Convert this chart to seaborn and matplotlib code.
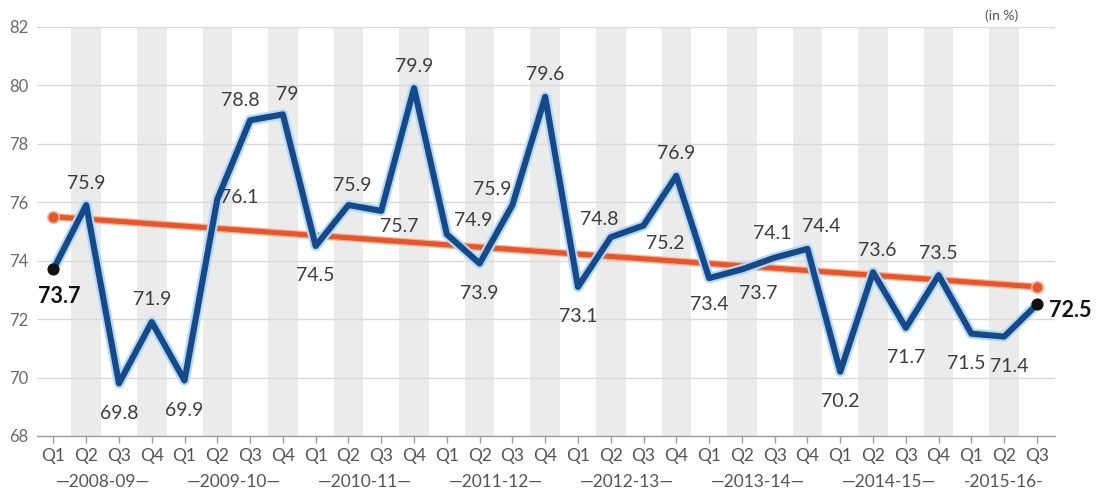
import numpy as np
import pandas as pd
import matplotlib
matplotlib.use("Agg")
import matplotlib.pyplot as plt
import matplotlib.patheffects as pe
import matplotlib.transforms as mtransforms
import seaborn as sns

# ---- data ----
years = ["2008-09", "2009-10", "2010-11", "2011-12", "2012-13", "2013-14", "2014-15", "2015-16"]
quarters = ["Q1", "Q2", "Q3", "Q4"] * 7 + ["Q1", "Q2", "Q3"]
values = [73.7, 75.9, 69.8, 71.9, 69.9, 76.1, 78.8, 79.0, 74.5, 75.9, 75.7, 79.9,
          74.9, 73.9, 75.9, 79.6, 73.1, 74.8, 75.2, 76.9, 73.4, 73.7, 74.1, 74.4,
          70.2, 73.6, 71.7, 73.5, 71.5, 71.4, 72.5]
value_labels = ["73.7", "75.9", "69.8", "71.9", "69.9", "76.1", "78.8", "79", "74.5", "75.9", "75.7", "79.9",
                "74.9", "73.9", "75.9", "79.6", "73.1", "74.8", "75.2", "76.9", "73.4", "73.7", "74.1", "74.4",
                "70.2", "73.6", "71.7", "73.5", "71.5", "71.4", "72.5"]
trend_values = [75.5, 73.1]   # trend line at first and last quarter
y_ticks = [68, 70, 72, 74, 76, 78, 80, 82]

# label placement (pixel offsets), style only
label_offsets = [None, (0, 22), (0, -30), (0, 22), (0, -30), (22, 2), (-10, 20), (4, 20),
                 (0, -30), (4, 20), (18, -16), (0, 22), (26, 14), (0, -30), (-20, 16), (0, 22),
                 (0, -30), (-12, 18), (22, -18), (0, 22), (0, -26), (16, -24), (-2, 24), (14, 22),
                 (0, -30), (4, 22), (0, -30), (0, 22), (-5, -30), (5, -30), None]

x = np.arange(len(values))
df = pd.DataFrame({"x": x, "value": values})
trend_df = pd.DataFrame({"x": [x[0], x[-1]], "value": trend_values})

sns.set_theme(style="white")
plt.rcParams["font.family"] = ["Lato", "DejaVu Sans"]

fig = plt.figure(figsize=(11.02, 4.93), dpi=100)
ax = fig.add_axes([37 / 1102, 1 - 436 / 493, (1055 - 37) / 1102, (436 - 26.7) / 493])

ax.set_xlim(-0.5, 30.55)
ax.set_ylim(68, 82)

# alternating background bands
for i in x:
    if i % 2 == 1:
        ax.axvspan(i - 0.45, i + 0.45, ymin=0, ymax=1, color="#ebebeb", lw=0, zorder=0)

# gridlines
for t in y_ticks[1:]:
    ax.axhline(t, color="#d9d9d9", lw=1, zorder=0.5)

# trend line
sns.lineplot(data=trend_df, x="x", y="value", ax=ax, color="#e8552a", lw=3.6, zorder=3,
             path_effects=[pe.Stroke(linewidth=5.5, foreground="#f6b59c"), pe.Normal()])
ax.scatter(trend_df["x"], trend_df["value"], s=70, color="#e8552a", edgecolor="#f6b59c",
           linewidth=1.2, zorder=4)

# main line
sns.lineplot(data=df, x="x", y="value", ax=ax, color="#15498a", lw=4.4, zorder=5,
             path_effects=[pe.Stroke(linewidth=7.5, foreground="#b3d9f5"), pe.Normal()])
ax.scatter([x[0], x[-1]], [values[0], values[-1]], s=60, color="#111111", zorder=6)

# data labels
for i, (v, lab) in enumerate(zip(values, value_labels)):
    off = label_offsets[i]
    if off is None:
        continue
    ax.annotate(lab, (i, v), xytext=off, textcoords="offset pixels", ha="center", va="center",
                fontsize=14, color="#3d3d3d", zorder=7)

ax.annotate(value_labels[0], (x[0], values[0]), xytext=(6, -27), textcoords="offset pixels",
            ha="center", va="center", fontsize=15.5, fontweight="bold", color="#111111", zorder=7)
ax.annotate(value_labels[-1], (x[-1], values[-1]), xytext=(12, -6), textcoords="offset pixels",
            ha="left", va="center", fontsize=15.5, fontweight="bold", color="#111111", zorder=7)

# axes styling
for s in ["top", "right", "left"]:
    ax.spines[s].set_visible(False)
ax.spines["bottom"].set_color("#9a9a9a")
ax.spines["bottom"].set_linewidth(1)
ax.set_yticks(y_ticks)
ax.set_yticklabels([str(t) for t in y_ticks])
ax.tick_params(axis="y", length=0, pad=6, labelsize=12, labelcolor="#6a6a6a")
ax.set_xticks(x)
ax.set_xticklabels(quarters)
ax.tick_params(axis="x", length=5, width=1, color="#9a9a9a", direction="out", pad=4,
               labelsize=12.5, labelcolor="#555555", bottom=True)
ax.set_xlabel("")
ax.set_ylabel("")
ax.grid(False)

# year labels
trans = mtransforms.blended_transform_factory(ax.transData, fig.transFigure)
for k, yr in enumerate(years):
    n = 4 if k < len(years) - 1 else 3
    center = 4 * k + (n - 1) / 2
    dash = "\u2014" if n == 4 else "-"
    ax.text(center, 1 - 482 / 493, dash + yr + dash, transform=trans,
            ha="center", va="center", fontsize=12.5, color="#555555")

fig.text(1002 / 1102, 1 - 16 / 493, "(in %)", ha="center", va="center", fontsize=10, color="#555555")

fig.savefig("out.png", dpi=100, facecolor="white")
